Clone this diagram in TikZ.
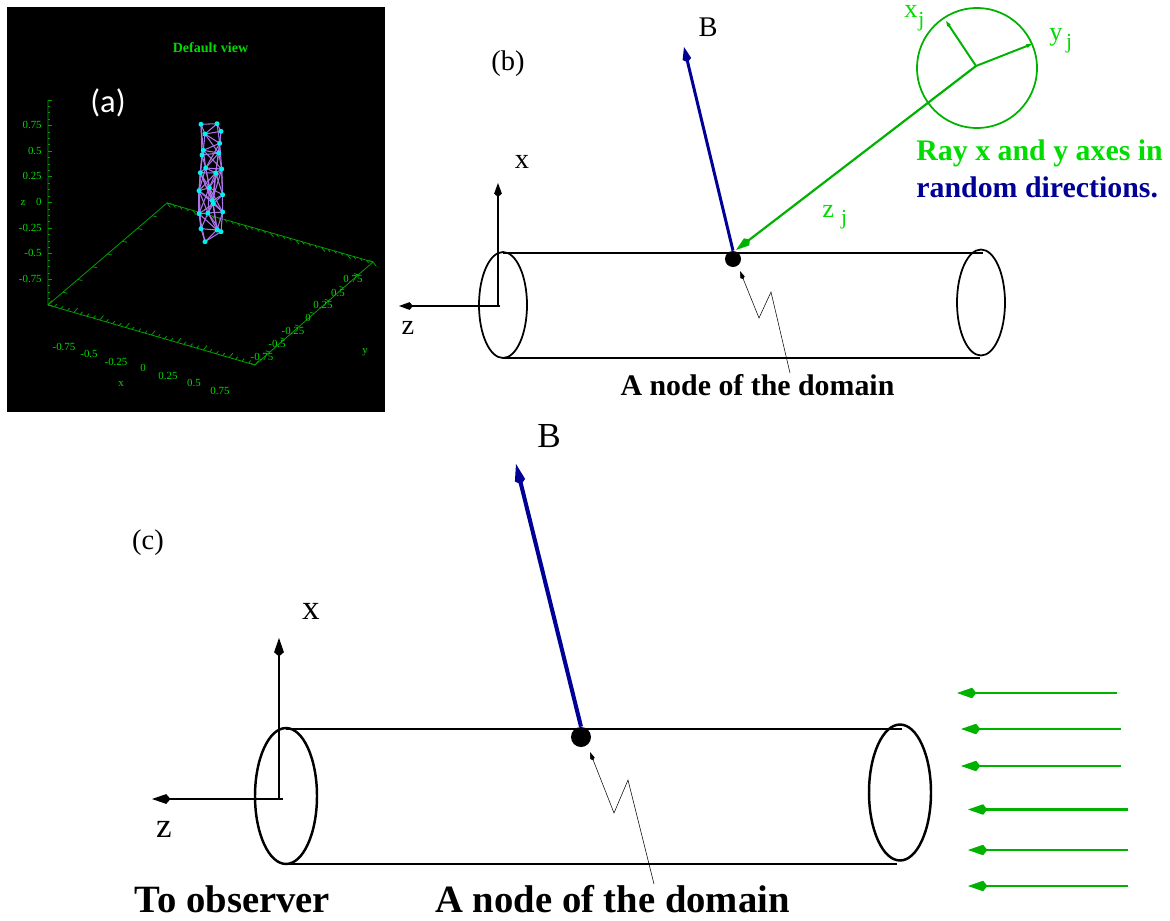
\documentclass[tikz,border=0pt]{standalone}
\usepackage{fontspec}
\setmainfont{Liberation Serif}
\newfontfamily\panelfont{Carlito}
\usepackage{tikz}
\usetikzlibrary{arrows.meta,shapes.geometric,calc}
\definecolor{fieldblue}{RGB}{0,0,150}
\definecolor{raygreen}{RGB}{0,178,0}
\definecolor{textgreen}{RGB}{0,220,0}
\definecolor{axisgreen}{RGB}{0,160,0}
\definecolor{wirepurple}{RGB}{170,115,230}
\definecolor{dotcyan}{RGB}{0,240,240}
\newcommand{\rayidx}[2]{\hspace{#1}\raisebox{#2}{\fontsize{12.2}{13}\selectfont j}}
\begin{document}
\begin{tikzpicture}[
    x=0.02cm, y=-0.02cm,
    plottext/.style={text=textgreen, inner sep=0pt, font=\fontsize{6.2}{7}\selectfont},
    axisline/.style={draw=axisgreen, line width=0.45pt},
    wire/.style={draw=wirepurple, line width=0.6pt},
    wiredot/.style={circle, fill=dotcyan, inner sep=0pt, minimum size=0.1cm},
    capb/.style={draw, ellipse, inner sep=0pt, line width=1pt, minimum width=0.96cm, minimum height=2.12cm},
    capc/.style={draw, ellipse, inner sep=0pt, line width=1.4pt, minimum width=1.24cm, minimum height=2.72cm},
    nodedot/.style={fill, circle, inner sep=0pt},
    labelb/.style={inner sep=0pt, font=\fontsize{16.2}{18}\selectfont},
    labelc/.style={inner sep=0pt, font=\fontsize{20}{22}\selectfont},
    raylabel/.style={inner sep=0pt, anchor=base west, text=textgreen, font=\fontsize{15}{16}\selectfont},
    boldb/.style={inner sep=0pt, font=\fontsize{17}{20}\selectfont\bfseries},
    boldc/.style={inner sep=0pt, font=\fontsize{22}{25}\selectfont\bfseries},
    tube/.style={line width=1.1pt},
    pointer/.style={line width=0.3pt, -{Kite[length=5pt, width=2.6pt, inset=1.2pt]}},
    axisb/.style={line width=1.1pt, -{Kite[length=8pt, width=4.4pt, inset=2pt]}},
    axisc/.style={line width=1.5pt, -{Kite[length=10.5pt, width=5.6pt, inset=2.4pt]}},
    ray/.style={draw=raygreen, line width=1.5pt, -{Kite[length=11pt, width=6pt, inset=2.4pt]}},
    thinray/.style={draw=raygreen, line width=1.1pt, -{Kite[length=4pt, width=2.2pt, inset=1pt]}}
  ]
  \useasboundingbox (0,0) rectangle (1170,920);
  \fill (7,7) rectangle (385,412);

  \coordinate (floorA) at (48,305);
  \coordinate (floorB) at (167,203);
  \coordinate (floorC) at (373,262);
  \coordinate (floorD) at (255,365);
  \coordinate (ztop) at (48,100);
  \draw[axisline] (ztop) -- (floorA) -- (floorD) -- (floorC) -- (floorB) -- (floorA);
  \foreach \t in {0,...,32}{
    \pgfmathsetmacro\len{mod(\t,4)==0 ? 1.7 : 1}
    \draw[axisline] ($(ztop)!\t/32!(floorA)$) -- ++(2.4*\len,0);
    \draw[axisline] ($(floorA)!\t/32!(floorD)$) -- ++(2.2*\len,-2.6*\len);
    \draw[axisline] ($(floorB)!\t/32!(floorC)$) -- ++(2*\len,2.6*\len);
  }
  \foreach \t in {0,4,...,32}{
    \draw[axisline] ($(floorA)!\t/32!(floorB)$) -- ++(4.5,1);
    \draw[axisline] ($(floorD)!\t/32!(floorC)$) -- ++(-4,-1.4);
  }

  \node[plottext, font=\fontsize{8}{10}\selectfont\bfseries] (title) at (210.5,48) {Default view};
  \node[text=white, inner sep=0pt, font=\panelfont\fontsize{18.5}{20}\selectfont] (panela) at (108,103) {(a)};
  \foreach \lab/\py [count=\i] in {0.75/125,0.5/151,0.25/176,0/202,-0.25/228,-0.5/253,-0.75/279}{
    \node[plottext, anchor=east] (zt\i) at (42,\py) {\lab};
  }
  \foreach \lab/\px/\py [count=\i] in {-0.75/64/347,-0.5/89/354,-0.25/116/362,0/143/368,0.25/168/376,0.5/194/383,0.75/220/391}{
    \node[plottext] (xt\i) at (\px,\py) {\lab};
  }
  \foreach \lab/\px/\py [count=\i] in {-0.75/262/357,-0.5/277/344,-0.25/293/331,0/308/318,0.25/323/305,0.5/338/293,0.75/353/279}{
    \node[plottext] (yt\i) at (\px,\py) {\lab};
  }
  \node[plottext] (zname) at (23,203) {z};
  \node[plottext] (xname) at (121,384) {x};
  \node[plottext] (yname) at (365,352) {y};

  \foreach \px/\py [count=\i] in {201/124.3,217/123.7,221/131.3,205/134,219.7/143.3,203.3/150.3,218.7/153,202/155,205.7/168,221.7/169,215.7/173,200.3/172.7,209.3/187.7,199/190.7,222.7/194.7,212.3/200.7,213.3/203.7,199/213.7,208/213,222.7/212,201/228.7,217/230,221/231.7,205/241.7}{
    \coordinate (p\i) at (\px,\py);
  }
  \foreach \a/\b in {1/2,2/3,1/4,2/4,3/4,3/5,4/5,1/6,4/6,4/7,5/7,5/6,6/7,6/8,7/8,8/9,7/9,7/10,7/11,8/12,9/10,9/11,9/12,10/11,11/12,5/9,6/9,1/8,2/5,3/7,5/10,5/11,6/10,6/12,
    9/13,11/13,10/13,11/15,10/15,12/13,12/14,13/14,13/15,12/16,11/16,15/16,14/16,15/17,13/17,13/16,14/17,14/18,14/19,16/19,17/19,17/20,15/20,16/20,13/19,18/19,19/20,9/14,9/16,11/17,11/14,10/16,13/18,13/20,
    18/21,18/22,19/21,19/22,19/23,20/22,20/23,21/22,21/24,22/23,22/24,23/24,18/24,17/18,12/18,10/20,8/14,12/17,16/22,17/22,14/21}{
    \draw[wire] (p\a) -- (p\b);
  }
  \foreach \i in {1,...,24}{
    \node[wiredot] (q\i) at (p\i) {};
  }

  \node[labelb] (panelb) at (508,64) {(b)};
  \node[capb] (capbl) at (503,305) {};
  \node[capb] (capbr) at (981,302.5) {};
  \coordinate (tubebt) at (983,253);
  \coordinate (tubebb) at (980,358);
  \draw[tube] (capbl.north |- tubebt) -- (tubebt);
  \draw[tube] (capbl.south |- tubebb) -- (tubebb);
  \coordinate (originb) at (498,306);
  \coordinate (zstartb) at (500,306);
  \coordinate (xtipb) at (498,183);
  \coordinate (ztipb) at (399,306);
  \draw[axisb] (originb) -- (xtipb);
  \draw[axisb] (zstartb) -- (ztipb);
  \node[labelb] (xlabelb) at (522,162) {x};
  \node[labelb] (zlabelb) at (408,328) {z};
  \node[nodedot, minimum size=0.32cm] (nodeb) at (733,259) {};
  \coordinate (bfieldb) at (684,47);
  \draw[draw=fieldblue, fill=fieldblue, line width=1.7pt, -{Kite[length=9pt, width=5pt, inset=2pt]}] (nodeb.north) -- (bfieldb);
  \node[labelb] (blabelb) at (708,27) {B};
  \coordinate (rayhub) at (976,66);
  \coordinate (rayend) at (736,250);
  \coordinate (xjtip) at (946,21);
  \coordinate (yjtip) at (1032,44);
  \node[draw=raygreen, line width=1pt, circle, inner sep=0pt, minimum size=2.4cm] (raydisk) at (977,68) {};
  \draw[draw=raygreen, fill=raygreen, line width=1.25pt, -{Kite[length=10pt, width=5pt, inset=2.4pt]}] (rayhub) -- (rayend);
  \draw[thinray] (rayhub) -- (xjtip);
  \draw[thinray] (rayhub) -- (yjtip);
  \node[raylabel] (xjlabel) at (904,17) {x\rayidx{0.5pt}{-5.5pt}};
  \node[raylabel] (yjlabel) at (1049,40) {y\rayidx{2pt}{-5pt}};
  \node[raylabel] (zjlabel) at (822,217) {z\rayidx{4pt}{-4pt}};
  \node[boldb, anchor=west, text=textgreen] (raytext) at (916,153) {Ray x and y axes in};
  \node[boldb, anchor=west, text=fieldblue] (randomtext) at (916,187) {random directions.};
  \node[boldb] (domainb) at (757.5,385) {A node of the domain};
  \coordinate (ptrb0) at (790,373);
  \coordinate (ptrb1) at (771,292);
  \coordinate (ptrb2) at (759,318);
  \coordinate (ptrb3) at (740,271);
  \draw[pointer] (ptrb0) -- (ptrb1) -- (ptrb2) -- (ptrb3);

  \node[labelb] (panelc) at (148,543) {(c)};
  \node[capc] (capcl) at (286,796) {};
  \node[capc] (capcr) at (900,792.5) {};
  \coordinate (tubect) at (902,729);
  \coordinate (tubecb) at (897,864);
  \draw[tube, line width=1.4pt] (capcl.north |- tubect) -- (tubect);
  \draw[tube, line width=1.4pt] (capcl.south |- tubecb) -- (tubecb);
  \coordinate (originc) at (279,799);
  \coordinate (zstartc) at (283,799);
  \coordinate (xtipc) at (279,638);
  \coordinate (ztipc) at (152,799);
  \draw[axisc] (originc) -- (xtipc);
  \draw[axisc] (zstartc) -- (ztipc);
  \node[labelc] (xlabelc) at (311,611) {x};
  \node[labelc] (zlabelc) at (164,829) {z};
  \node[nodedot, minimum size=0.4cm] (nodec) at (581,737) {};
  \coordinate (bfieldc) at (516,464);
  \draw[draw=fieldblue, fill=fieldblue, line width=2.3pt, -{Kite[length=12pt, width=6pt, inset=2.5pt]}] (nodec.north) -- (bfieldc);
  \node[labelc] (blabelc) at (549,436) {B};
  \node[boldc] (observer) at (232.5,899) {To observer};
  \node[boldc] (domainc) at (612.5,899) {A node of the domain};
  \coordinate (ptrc0) at (654,884);
  \coordinate (ptrc1) at (628,780);
  \coordinate (ptrc2) at (614,813);
  \coordinate (ptrc3) at (590,752);
  \draw[pointer] (ptrc0) -- (ptrc1) -- (ptrc2) -- (ptrc3);

  \foreach \ys/\xs/\xe [count=\i] in {693/1117/957,729/1121/961,766/1121/961,809.5/1128/968,850/1128/968,886/1128/968}{
    \coordinate (raystart\i) at (\xs,\ys);
    \coordinate (rayend\i) at (\xe,\ys);
    \draw[ray, fill=raygreen] (raystart\i) -- (rayend\i);
  }
\end{tikzpicture}
\end{document}
